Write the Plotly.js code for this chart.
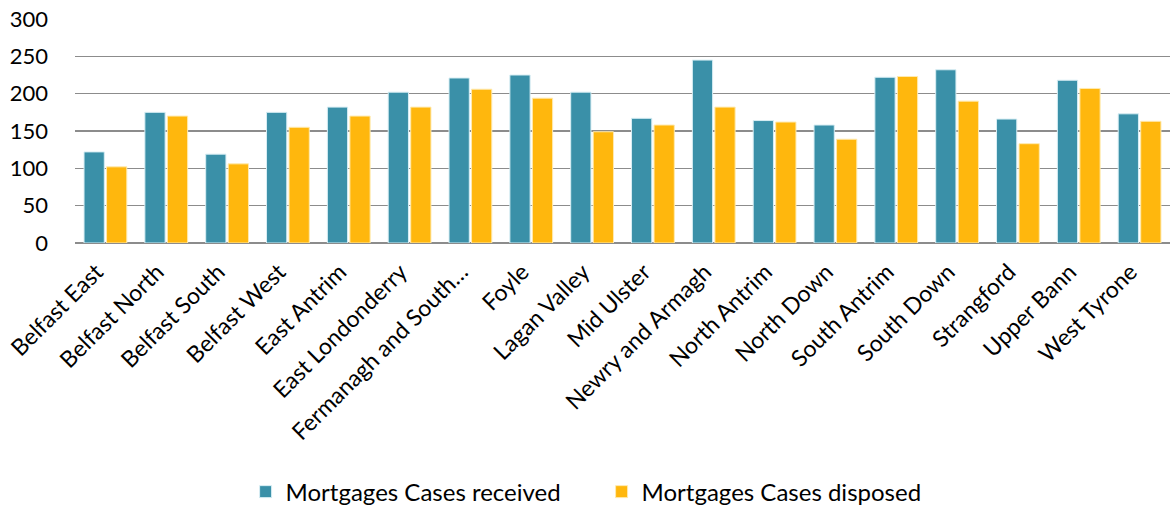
<!DOCTYPE html>
<html>
<head>
<meta charset="utf-8">
<script src="https://cdn.plot.ly/plotly-3.0.1.min.js"></script>
<style>html,body{margin:0;padding:0;background:#fff;}#chart{width:1175px;height:512px;}</style>
</head>
<body>
<div id="chart"></div>
<script>
const categories = ["Belfast East","Belfast North","Belfast South","Belfast West","East Antrim","East Londonderry","Fermanagh and South…","Foyle","Lagan Valley","Mid Ulster","Newry and Armagh","North Antrim","North Down","South Antrim","South Down","Strangford","Upper Bann","West Tyrone"];
const received = [122,175,119,175,182,202,221,225,202,167,245,164,158,222,232,166,218,173];
const disposed = [102,170,106,155,170,182,206,194,149,158,182,162,139,223,190,133,207,163];
const seriesNames = ["Mortgages Cases received","Mortgages Cases disposed"];
const yTicks = [0,50,100,150,200,250,300];

const font = "Lato, 'Open Sans', sans-serif";
const traces = [
  {type:'bar', x:categories, y:received, name:seriesNames[0],
   marker:{color:'#3A90A8', line:{color:'#d8eef4', width:1}}},
  {type:'bar', x:categories, y:disposed, name:seriesNames[1],
   marker:{color:'#FFB70D', line:{color:'#ffeab0', width:1}}}
];
const layout = {
  width:1175, height:512,
  margin:{l:75, r:5, t:19, b:269, autoexpand:false},
  paper_bgcolor:'#fff', plot_bgcolor:'#fff',
  barmode:'group', bargap:0.26, bargroupgap:0.1,
  font:{family:font, size:22, color:'#000'},
  xaxis:{type:'category', tickangle:-45, showgrid:false, showline:false, zeroline:false,
         ticks:'', ticklabelshift:-9, ticklabelstandoff:10,
         tickfont:{family:font, size:23, color:'#000'}, automargin:false},
  yaxis:{range:[0,300], tickvals:yTicks, showgrid:true, gridcolor:'#8c8c8c', gridwidth:1.5,
         zeroline:true, zerolinecolor:'#8c8c8c', zerolinewidth:1.5, showline:false, ticks:'',
         ticklabelstandoff:26, tickfont:{family:font, size:22, color:'#000'}, automargin:false},
  showlegend:true,
  legend:{orientation:'h', xref:'container', yref:'container', x:0.512, xanchor:'center',
          y:0.039, yanchor:'middle',
          font:{family:font, size:24, color:'#000'}, entrywidth:311, traceorder:'normal'}
};
Plotly.newPlot('chart', traces, layout, {displayModeBar:false, staticPlot:true});
</script>
</body>
</html>
